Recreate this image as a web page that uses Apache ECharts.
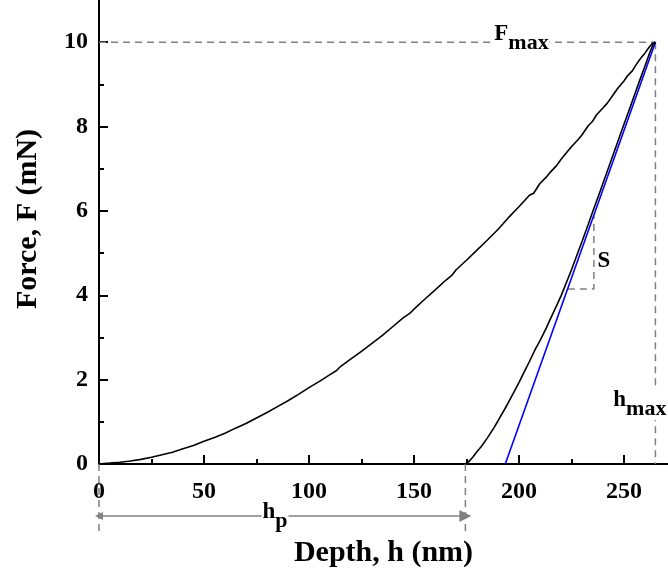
<!DOCTYPE html>
<html>
<head>
<meta charset="utf-8">
<script src="https://cdn.jsdelivr.net/npm/echarts@6/dist/echarts.min.js"></script>
<style>
  html, body { margin: 0; padding: 0; background: #fff; }
  #chart { width: 668px; height: 575px; }
</style>
</head>
<body>
<div id="chart"></div>
<script>
// Nanoindentation load–displacement record (depth in nm, force in mN)
const loadingDepth = [0, 2, 5, 10, 15, 20, 25, 30, 35, 40, 45, 50, 55, 60, 65, 70, 75, 80, 85, 90,
  95, 100, 105, 110, 113, 115, 120, 125, 130, 135, 140, 145, 148, 150, 155, 160, 165, 168, 170,
  175, 180, 185, 190, 195, 200, 205, 207, 210, 213, 215, 218, 220, 223, 225, 228, 230, 233, 235,
  237, 240, 242, 245, 247, 250, 252, 254, 256, 258, 260, 262, 263.5, 265];
const loadingForce = [0, 0.01, 0.02, 0.04, 0.07, 0.11, 0.16, 0.22, 0.28, 0.36, 0.44, 0.54, 0.63,
  0.73, 0.85, 0.96, 1.09, 1.22, 1.36, 1.50, 1.65, 1.81, 1.96, 2.12, 2.21, 2.31, 2.49, 2.67, 2.86,
  3.05, 3.26, 3.47, 3.57, 3.67, 3.90, 4.12, 4.35, 4.47, 4.60, 4.83, 5.07, 5.31, 5.56, 5.84, 6.10,
  6.37, 6.42, 6.65, 6.80, 6.92, 7.08, 7.22, 7.40, 7.52, 7.68, 7.80, 8.02, 8.12, 8.28, 8.44, 8.55,
  8.76, 8.90, 9.08, 9.22, 9.32, 9.48, 9.62, 9.74, 9.88, 9.97, 10.0];

const unloadingDepth = [174.5, 176, 178, 180, 182, 185, 188, 190, 193, 195, 198, 200, 203, 205,
  208, 210, 213, 215, 218, 220, 223, 225, 228, 230, 233, 235, 238, 240, 243, 245, 248, 250, 253,
  255, 258, 260, 262, 264, 265];
const unloadingForce = [0, 0.05, 0.16, 0.29, 0.41, 0.62, 0.85, 1.02, 1.28, 1.46, 1.74, 1.93, 2.23,
  2.43, 2.74, 2.92, 3.22, 3.44, 3.76, 3.98, 4.35, 4.60, 5.00, 5.27, 5.68, 5.96, 6.37, 6.65, 7.07,
  7.35, 7.77, 8.05, 8.46, 8.74, 9.16, 9.43, 9.71, 9.96, 10.0];

// Tangent to the top of the unloading branch (contact stiffness S)
const tangentDepth = [193.5, 265];
const tangentForce = [0, 10];

// Characteristic quantities
const peakForce = 10;      // F_max
const peakDepth = 265;     // h_max
const finalDepth = 174.5;  // h_p

// Slope triangle on the tangent
const slopeDepth = [223.3, 235.7, 235.7];
const slopeForce = [4.15, 4.15, 5.9];

// Axis ticks
const xMajorTicks = [0, 50, 100, 150, 200, 250];
const xMinorTicks = [25, 75, 125, 175, 225];
const yMajorTicks = [0, 2, 4, 6, 8, 10];
const yMinorTicks = [1, 3, 5, 7, 9];

const zip = (a, b) => a.map((v, i) => [v, b[i]]);

const FONT = '"Liberation Serif", "Times New Roman", serif';
const GUIDE = { color: '#808080', width: 1.5, type: [7, 5] };

// main letter sits at the top of the line box, the subscript at its bottom
const subRich = {
  b: { fontFamily: FONT, fontWeight: 'bold', fontSize: 23, color: '#000', lineHeight: 24, verticalAlign: 'top' },
  s: { fontFamily: FONT, fontWeight: 'bold', fontSize: 22, color: '#000', lineHeight: 32, verticalAlign: 'bottom' }
};

function textMark(pos, text) {
  return {
    type: 'scatter', clip: false, symbolSize: 0, silent: true, z: 10,
    data: [pos],
    itemStyle: { color: '#000', opacity: 1 },
    label: {
      show: true, position: 'inside', formatter: text, rich: subRich,
      color: '#000', textBorderWidth: 0, textBorderColor: 'transparent', opacity: 1,
      backgroundColor: '#fff', padding: [0, 1, 0, 1]
    }
  };
}

function guide(points) {
  return {
    type: 'line', clip: false, showSymbol: false, silent: true, z: 1,
    data: points, lineStyle: GUIDE
  };
}

const hpLevel = -1.23;
const hpDrop = -1.62;

const chart = echarts.init(document.getElementById('chart'), null, { renderer: 'canvas' });

const axisLine = { show: true, onZero: false, lineStyle: { color: '#000', width: 2 } };

chart.setOption({
  animation: false,
  backgroundColor: '#fff',
  grid: { left: 99, right: 0, top: -1, bottom: 111, containLabel: false },
  xAxis: [
    {
      type: 'value', min: 0, max: 271, interval: 50, position: 'bottom',
      axisLine: axisLine,
      axisTick: { show: true, inside: true, length: 9, customValues: xMajorTicks, lineStyle: { color: '#000', width: 2 } },
      axisLabel: { customValues: xMajorTicks, fontFamily: FONT, fontWeight: 'bold', fontSize: 24, color: '#000', margin: 16 },
      splitLine: { show: false },
      name: 'Depth, h (nm)', nameLocation: 'middle', nameGap: 74,
      nameTextStyle: { fontFamily: FONT, fontWeight: 'bold', fontSize: 30, color: '#000' }
    },
    {
      type: 'value', min: 0, max: 271, position: 'bottom',
      axisLine: { show: false },
      axisTick: { show: true, inside: true, length: 5, customValues: xMinorTicks, lineStyle: { color: '#000', width: 2 } },
      axisLabel: { show: false },
      splitLine: { show: false }
    }
  ],
  yAxis: [
    {
      type: 'value', min: 0, max: 11, interval: 2, position: 'left',
      axisLine: axisLine,
      axisTick: { show: true, inside: true, length: 9, customValues: yMajorTicks, lineStyle: { color: '#000', width: 2 } },
      axisLabel: { customValues: yMajorTicks, fontFamily: FONT, fontWeight: 'bold', fontSize: 24, color: '#000', margin: 11 },
      splitLine: { show: false },
      name: 'Force, F (mN)', nameLocation: 'middle', nameGap: 56, nameRotate: 90,
      nameTextStyle: { fontFamily: FONT, fontWeight: 'bold', fontSize: 30, color: '#000', padding: [0, 0, 0, 26] }
    },
    {
      type: 'value', min: 0, max: 11, position: 'left',
      axisLine: { show: false },
      axisTick: { show: true, inside: true, length: 5, customValues: yMinorTicks, lineStyle: { color: '#000', width: 2 } },
      axisLabel: { show: false },
      splitLine: { show: false }
    }
  ],
  series: [
    // guide lines
    guide([[0, peakForce], [peakDepth, peakForce]]),
    guide([[peakDepth, peakForce], [peakDepth, 0]]),
    guide(zip(slopeDepth, slopeForce)),
    guide([[0, 0], [0, hpDrop]]),
    guide([[finalDepth, 0], [finalDepth, hpDrop]]),
    {
      type: 'lines', coordinateSystem: 'cartesian2d', clip: false, silent: true, z: 2,
      symbol: ['triangle', 'triangle'], symbolSize: [8, 12],
      lineStyle: { color: '#808080', width: 1.5, opacity: 1 },
      data: [{ coords: [[0, hpLevel], [finalDepth, hpLevel]] }]
    },
    // measured curves
    {
      name: 'loading', type: 'line', showSymbol: false, z: 5,
      data: zip(loadingDepth, loadingForce),
      lineStyle: { color: '#000', width: 1.6 }
    },
    {
      name: 'unloading', type: 'line', showSymbol: false, z: 5,
      data: zip(unloadingDepth, unloadingForce),
      lineStyle: { color: '#000', width: 1.6 }
    },
    {
      name: 'tangent', type: 'line', showSymbol: false, z: 4,
      data: zip(tangentDepth, tangentForce),
      lineStyle: { color: '#0000ff', width: 1.6 }
    },
    // annotations
    textMark([201.2, 10.08], '{b|F}{s|max}'),
    textMark([257.6, 1.42], '{b|h}{s|max}'),
    textMark([83.8, -1.25], '{b|h}{s|p}'),
    textMark([240.5, 4.81], '{b|S}')
  ]
});
</script>
</body>
</html>
